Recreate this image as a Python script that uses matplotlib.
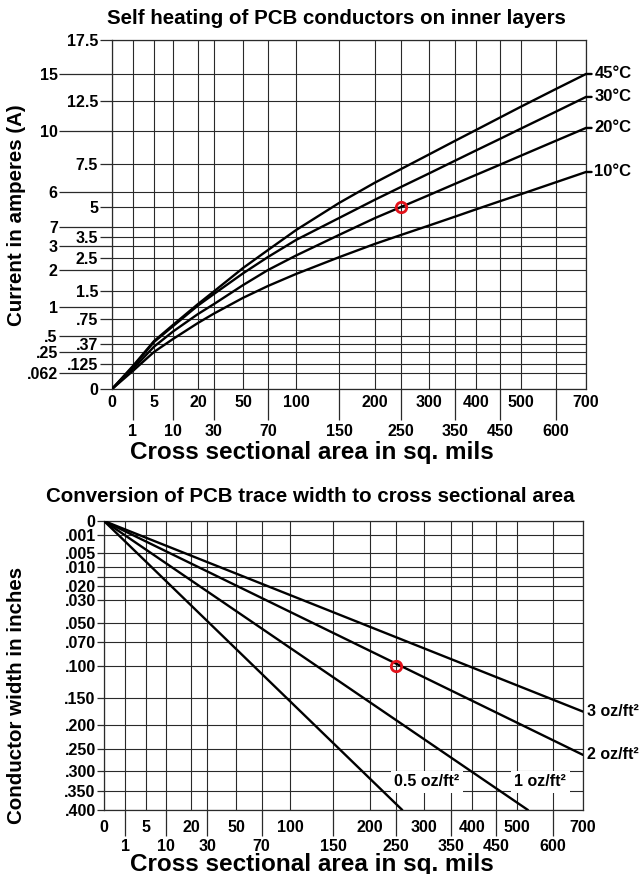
import numpy as np
import matplotlib
matplotlib.use("Agg")
import matplotlib.pyplot as plt

plt.rcParams['font.family'] = ['Liberation Sans', 'DejaVu Sans']
plt.rcParams['font.weight'] = 'bold'

# ---------------- data ----------------
# Top chart: current (A) vs cross-sectional area (sq. mils) per temperature rise
area_pts = [0, 1, 5, 10, 20, 30, 50, 70, 100, 150, 200, 250, 300, 350, 400, 450, 500, 600, 700]
i_45 = [0, 0.112, 0.42, 0.666, 1.10, 1.49, 2.08, 2.82, 3.84, 5.26, 6.50, 7.24, 8.24, 9.26, 10.08, 11.11, 12.01, 13.6, 15.0]
i_30 = [0, 0.105, 0.406, 0.647, 1.055, 1.41, 1.92, 2.53, 3.34, 4.44, 5.48, 6.26, 7.0, 7.77, 8.54, 9.41, 10.2, 11.6, 12.85]
i_20 = [0, 0.09, 0.334, 0.567, 0.86, 1.10, 1.64, 2.0, 2.59, 3.61, 4.44, 5.0, 5.78, 6.43, 6.92, 7.48, 8.15, 9.27, 10.25]
i_10 = [0, 0.075, 0.255, 0.453, 0.695, 0.87, 1.29, 1.62, 1.905, 2.52, 3.11, 3.61, 4.06, 4.51, 4.88, 5.38, 5.84, 6.52, 7.08]
temp_labels = ["45°C", "30°C", "20°C", "10°C"]

# Bottom chart: conductor width (in) vs area (sq. mils) per copper weight (end points)
w_05 = [0, 0.400]; a_05 = [0, 261]
w_1 = [0, 0.400]; a_1 = [0, 530]
w_2 = [0, 0.262]; a_2 = [0, 700]
w_3 = [0, 0.174]; a_3 = [0, 700]
oz_labels = ["0.5 oz/ft²", "1 oz/ft²", "2 oz/ft²", "3 oz/ft²"]

# marked example point
ex_area = 250
ex_current = 5
ex_width = 0.100

# ticks
x_row1 = [0, 5, 20, 50, 100, 200, 300, 400, 500, 700]
x_row2 = [1, 10, 30, 70, 150, 250, 350, 450, 600]
y1_long = [15, 10, 6, 4, 3, 2, 1, 0.5, 0.25, 0.062]
y1_long_lbl = ["15", "10", "6", "7", "3", "2", "1", ".5", ".25", ".062"]
y1_short = [17.5, 12.5, 7.5, 5, 3.5, 2.5, 1.5, 0.75, 0.37, 0.125, 0]
y1_short_lbl = ["17.5", "12.5", "7.5", "5", "3.5", "2.5", "1.5", ".75", ".37", ".125", "0"]
y2_ticks = [0, 0.001, 0.005, 0.010, 0.015, 0.020, 0.030, 0.050, 0.070, 0.100,
            0.150, 0.200, 0.250, 0.300, 0.350, 0.400]
y2_lbl = ["0", ".001", ".005", ".010", "", ".020", ".030", ".050", ".070", ".100",
          ".150", ".200", ".250", ".300", ".350", ".400"]

# ---------------- nomograph scales (value -> fraction of axis) ----------------
AREA_SCALE_V = [0, 1, 5, 10, 20, 30, 50, 70, 100, 150, 200, 250, 300, 350, 400, 450, 500, 600, 700]
AREA_SCALE_F = [0, .044, .0886, .1287, .1814, .2152, .2764, .3291, .3882, .4789, .5549,
                .6097, .6688, .7236, .7679, .8186, .8629, .9367, 1.0]
AMP_SCALE_V = [0, .062, .125, .25, .37, .5, .75, 1, 1.5, 2, 2.5, 3, 3.5, 4, 5, 6, 7.5, 10, 12.5, 15, 17.5]
AMP_SCALE_F = [0, .0467, .0708, .1052, .1281, .1519, .1997, .2341, .2808, .3410, .3762,
               .4106, .4347, .4650, .5215, .5653, .6438, .7393, .8261, .9026, 1.0]


def table_scale(vals, fracs):
    vals = np.asarray(vals, float)
    fracs = np.asarray(fracs, float)
    return (lambda v: np.interp(v, vals, fracs),
            lambda f: np.interp(f, fracs, vals))


def power(p):
    return (lambda v: np.sign(v) * np.abs(v) ** p,
            lambda v: np.sign(v) * np.abs(v) ** (1.0 / p))


W, H = 641, 874
fig = plt.figure(figsize=(W / 100, H / 100), dpi=100)
ax1 = fig.add_axes([112 / W, 1 - 389 / H, 474 / W, 349 / H])
ax2 = fig.add_axes([104 / W, 1 - 810 / H, 479 / W, 289 / H])

GRID = '#2a2a2a'
TICKFS = 11.5

# ---------------- top chart ----------------
ax1.set_xscale('function', functions=table_scale(AREA_SCALE_V, AREA_SCALE_F))
ax1.set_yscale('function', functions=table_scale(AMP_SCALE_V, AMP_SCALE_F))
ax1.set_xlim(0, 700)
ax1.set_ylim(0, 17.5)
ax1.set_axisbelow(True)

ax1.set_xticks(x_row2)
ax1.set_xticklabels([str(v) for v in x_row2])
ax1.set_xticks(x_row1, minor=True)
ax1.set_xticklabels([str(v) for v in x_row1], minor=True)
ax1.set_yticks(y1_long)
ax1.set_yticklabels(y1_long_lbl)
ax1.set_yticks(y1_short, minor=True)
ax1.set_yticklabels(y1_short_lbl, minor=True)

ax1.tick_params(axis='x', which='major', length=22, pad=3, width=0.9, color=GRID, labelsize=TICKFS)
ax1.tick_params(axis='x', which='minor', length=0, pad=4, labelsize=TICKFS)
ax1.tick_params(axis='y', which='major', length=38, pad=1, width=0.9, color=GRID, labelsize=TICKFS)
ax1.tick_params(axis='y', which='minor', length=9, pad=1, width=0.9, color=GRID, labelsize=TICKFS)
ax1.grid(which='both', color=GRID, lw=0.8)
for s in ax1.spines.values():
    s.set_color(GRID)
    s.set_linewidth(0.9)

for vals, lbl in zip([i_45, i_30, i_20, i_10], temp_labels):
    ax1.plot(area_pts, vals, color='black', lw=1.7, solid_capstyle='round',
             solid_joinstyle='round', zorder=3)
    ax1.annotate(lbl, xy=(area_pts[-1], vals[-1]), xytext=(6, 0), textcoords='offset points',
                 ha='left', va='center', fontsize=12, fontweight='bold',
                 arrowprops=dict(arrowstyle='-', lw=1.7, color='black', shrinkA=0, shrinkB=0),
                 annotation_clip=False)

ax1.plot([ex_area], [ex_current], 'o', mfc='none', mec='#e3121b', mew=2.0, ms=7.5, zorder=4)

# ---------------- bottom chart ----------------
ax2.set_xscale('function', functions=table_scale(AREA_SCALE_V, AREA_SCALE_F))
ax2.set_yscale('function', functions=power(0.5))
ax2.set_xlim(0, 700)
ax2.set_ylim(0.4, 0)
ax2.set_axisbelow(True)

ax2.set_xticks(x_row2)
ax2.set_xticklabels([str(v) for v in x_row2])
ax2.set_xticks(x_row1, minor=True)
ax2.set_xticklabels([str(v) for v in x_row1], minor=True)
ax2.set_yticks(y2_ticks)
ax2.set_yticklabels(y2_lbl)
ax2.tick_params(axis='x', which='major', length=19, pad=2, width=0.9, color=GRID, labelsize=TICKFS)
ax2.tick_params(axis='x', which='minor', length=0, pad=7, labelsize=TICKFS)
ax2.tick_params(axis='y', which='major', length=5, pad=1, width=0.9, color=GRID, labelsize=TICKFS)
ax2.grid(which='both', color=GRID, lw=0.8)
for s in ax2.spines.values():
    s.set_color(GRID)
    s.set_linewidth(0.9)

for a, w in [(a_05, w_05), (a_1, w_1), (a_2, w_2), (a_3, w_3)]:
    ax2.plot(a, w, color='black', lw=1.7, solid_capstyle='round', zorder=3)

for a, w, lbl in [(a_3, w_3, oz_labels[3]), (a_2, w_2, oz_labels[2])]:
    ax2.annotate(lbl, xy=(a[-1], w[-1]), xytext=(3, 0), textcoords='offset points',
                 ha='left', va='center', fontsize=11.5, fontweight='bold', annotation_clip=False)

box = dict(facecolor='white', edgecolor='none', pad=2.5)
ax2.text(305, 0.326, oz_labels[0], ha='center', va='center', fontsize=11.5,
         fontweight='bold', bbox=box, zorder=5)
ax2.text(565, 0.326, oz_labels[1], ha='center', va='center', fontsize=11.5,
         fontweight='bold', bbox=box, zorder=5)

ax2.plot([ex_area], [ex_width], 'o', mfc='none', mec='#e3121b', mew=2.0, ms=7.5, zorder=4)

# ---------------- titles & labels ----------------
fig.text(336 / W, 1 - 18 / H, "Self heating of PCB conductors on inner layers",
         ha='center', va='center', fontsize=14.8, fontweight='bold')
fig.text(310 / W, 1 - 497 / H, "Conversion of PCB trace width to cross sectional area",
         ha='center', va='center', fontsize=14.8, fontweight='bold')
fig.text(312 / W, 1 - 452 / H, "Cross sectional area in sq. mils",
         ha='center', va='center', fontsize=17.5, fontweight='bold')
fig.text(312 / W, 1 - 864 / H, "Cross sectional area in sq. mils",
         ha='center', va='center', fontsize=17.5, fontweight='bold')
fig.text(17 / W, 1 - 215 / H, "Current in amperes (A)", rotation=90,
         ha='center', va='center', fontsize=14.8, fontweight='bold')
fig.text(17 / W, 1 - 695 / H, "Conductor width in inches", rotation=90,
         ha='center', va='center', fontsize=14.8, fontweight='bold')

fig.savefig("out.png", dpi=100)
